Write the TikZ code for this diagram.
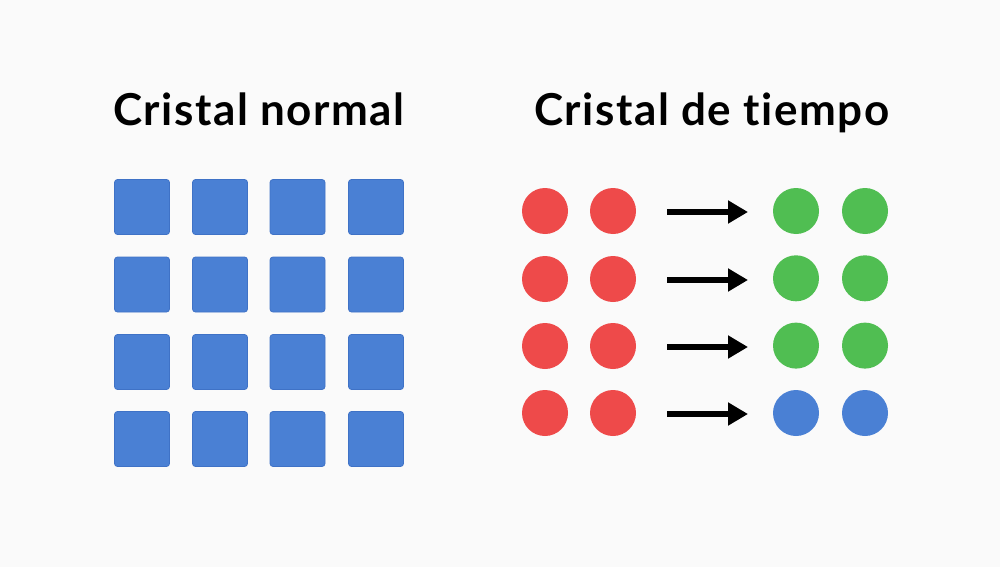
\documentclass[tikz,border=0pt]{standalone}
\usepackage{fontspec}
\newfontfamily\titlefont{Lato}[Ligatures=NoCommon, LetterSpace=3.5]
\usetikzlibrary{arrows.meta}
\definecolor{bg}{HTML}{FAFAFA}
\definecolor{sqblue}{HTML}{4A80D4}
\definecolor{sqedge}{HTML}{3F72C6}
\definecolor{cred}{HTML}{EE4A4A}
\definecolor{cgreen}{HTML}{50BE52}
\definecolor{cblue}{HTML}{4A80D4}
\tikzset{
  sq/.style={draw=sqedge, line width=0.8pt, fill=sqblue, rounded corners=3pt, minimum size=55pt, inner sep=0pt},
  dot/.style={circle, fill=#1, minimum size=46pt, inner sep=0pt},
  conn/.style={line width=5.5pt, -{Triangle[length=20pt,width=22pt]}},
  title/.style={font=\titlefont\bfseries\fontsize{44}{52}\selectfont, inner sep=0pt, anchor=base west}
}
\begin{document}
\begin{tikzpicture}[x=1pt,y=-1pt]
\fill[bg] (0,0) rectangle (1000,567);
\useasboundingbox (0,0) rectangle (1000,567);
\node[title] (t1) at (113,125) {Cristal normal};
\node[title] (t2) at (534,125) {Cristal de tiempo};
\foreach \i/\x in {1/142,2/220,3/297.5,4/376}{
  \foreach \j/\y in {1/207,2/284.5,3/362,4/439}{
    \node[sq] (s\i\j) at (\x,\y) {};
  }
}
\foreach \j/\y in {1/211,2/279,3/346,4/413}{
  \node[dot=cred] (r1\j) at (545,\y) {};
  \node[dot=cred] (r2\j) at (613,\y) {};
  \coordinate (as\j) at (667,\y+1);
  \coordinate (ae\j) at (748,\y+1);
  \draw[conn] (as\j) -- (ae\j);
}
\foreach \j in {1,2,3}{
  \node[dot=cgreen] (g1\j) at (796,{211+(\j-1)*67.3}) {};
  \node[dot=cgreen] (g2\j) at (865,{211+(\j-1)*67.3}) {};
}
\node[dot=cblue] (b14) at (796,413) {};
\node[dot=cblue] (b24) at (865,413) {};
\end{tikzpicture}
\end{document}
